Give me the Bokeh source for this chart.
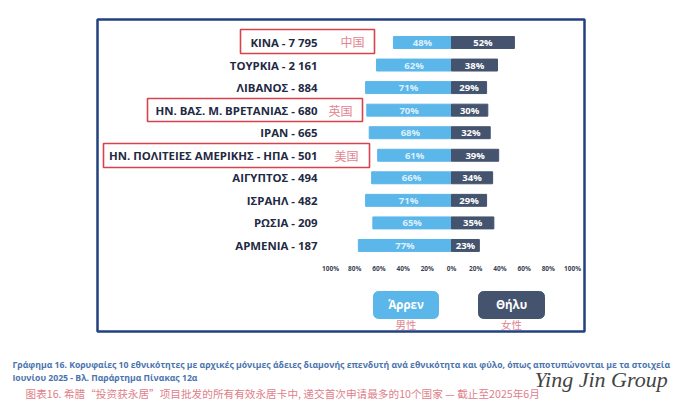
from bokeh.embed import file_html
from bokeh.resources import INLINE
from bokeh.models import (BoxAnnotation, ColumnDataSource, FixedTicker, Label, LinearAxis, Range1d)
from bokeh.plotting import figure

countries = ["ΚΙΝΑ", "ΤΟΥΡΚΙΑ", "ΛΙΒΑΝΟΣ", "ΗΝ. ΒΑΣ. Μ. ΒΡΕΤΑΝΙΑΣ", "ΙΡΑΝ",
             "ΗΝ. ΠΟΛΙΤΕΙΕΣ ΑΜΕΡΙΚΗΣ - ΗΠΑ", "ΑΙΓΥΠΤΟΣ", "ΙΣΡΑΗΛ", "ΡΩΣΙΑ", "ΑΡΜΕΝΙΑ"]
permits = ["7 795", "2 161", "884", "680", "665", "501", "494", "482", "209", "187"]
male = [48, 62, 71, 70, 68, 61, 66, 71, 65, 77]
female = [52, 38, 29, 30, 32, 39, 34, 29, 35, 23]
tick_values = [-100, -80, -60, -40, -20, 0, 20, 40, 60, 80, 100]
legend_names = ["Άρρεν", "Θήλυ"]
legend_cn = ["男性", "女性"]
highlight_cn = ["中国", "英国", "美国"]
caption_el = ["Γράφημα 16. Κορυφαίες 10 εθνικότητες με αρχικές μόνιμες άδειες διαμονής επενδυτή ανά εθνικότητα και φύλο, όπως αποτυπώνονται με τα στοιχεία",
              "Ιουνίου 2025 - Βλ. Παράρτημα Πίνακας 12α"]
caption_cn = "图表16. 希腊“投资获永居”项目批发的所有有效永居卡中, 递交首次申请最多的10个国家  —  截止至2025年6月"
watermark = "Ying Jin Group"

BLUE = "#5BB6EA"
DARK = "#44546E"
NAVY = "#23407F"
RED = "#D8424C"
PINK = "#E2868E"
INK = "#1F2A44"

W, H = 681, 411
ZERO_X, PX_PER_PCT = 451, 1.21
ROW0_Y, ROW_H = 42, 22.55

rows = list(range(len(countries)))
labels = [f"{c} - {n}" for c, n in zip(countries, permits)]
source = ColumnDataSource(dict(
    y=rows,
    male=[-v for v in male],
    female=female,
    male_mid=[-v / 2 for v in male],
    female_mid=[v / 2 for v in female],
    male_txt=[f"{v}%" for v in male],
    female_txt=[f"{v}%" for v in female],
))

p = figure(width=W, height=H, output_backend="svg", toolbar_location=None,
           x_range=Range1d(-ZERO_X / PX_PER_PCT, (W - ZERO_X) / PX_PER_PCT),
           y_range=Range1d((H - ROW0_Y) / ROW_H, -ROW0_Y / ROW_H),
           x_axis_type=None, y_axis_type=None,
           min_border=0)
p.outline_line_color = None
p.grid.visible = False
p.background_fill_color = "white"
p.border_fill_color = "white"

p.hbar(y="y", left="male", right=0, height=0.53, color=BLUE, source=source)
p.hbar(y="y", left=0, right="female", height=0.53, color=DARK, source=source)

for col, txt, tcol in (("male_mid", "male_txt", "#DDF0FB"), ("female_mid", "female_txt", "white")):
    p.text(x=col, y="y", text=txt, source=source, text_color=tcol,
           text_align="center", text_baseline="middle",
           text_font={"value": "Open Sans"}, text_font_style="bold", text_font_size="9.5px")

ax = LinearAxis(fixed_location=(263 - ROW0_Y) / ROW_H, ticker=FixedTicker(ticks=tick_values))
ax.major_label_overrides = {v: f"{abs(v)}%" for v in tick_values}
ax.axis_line_color = None
ax.major_tick_line_color = None
ax.minor_tick_line_color = None
ax.major_tick_out = 0
ax.major_tick_in = 0
ax.major_label_text_font = "Open Sans"
ax.major_label_text_font_style = "bold"
ax.major_label_text_font_size = "6.5px"
ax.major_label_text_color = "#3A4256"
ax.major_label_standoff = 0
p.add_layout(ax, "below")

ay = LinearAxis(fixed_location=(317 - ZERO_X) / PX_PER_PCT, ticker=FixedTicker(ticks=rows))
ay.major_label_overrides = dict(zip(rows, labels))
ay.axis_line_color = None
ay.major_tick_line_color = None
ay.minor_tick_line_color = None
ay.major_tick_out = 0
ay.major_tick_in = 0
ay.major_label_text_font = "Open Sans"
ay.major_label_text_font_style = "bold"
ay.major_label_text_font_size = "11.4px"
ay.major_label_text_color = INK
ay.major_label_standoff = 0
p.add_layout(ay, "left")


def box(l, t, r, b, **kw):
    p.add_layout(BoxAnnotation(left=l, right=r, top=t, bottom=b,
                               left_units="canvas", right_units="canvas",
                               top_units="canvas", bottom_units="canvas",
                               line_alpha=1, **kw))


def label(x, y, text, **kw):
    p.add_layout(Label(x=x, y=y, x_units="canvas", y_units="canvas", text=text,
                       text_baseline="middle", **kw))


box(97, 19, 584, 331, fill_alpha=0, line_color=NAVY, line_width=2.5)
for (l, t, r, b) in [(240, 29, 374, 53), (147, 98, 362, 121), (103, 143, 369, 167)]:
    box(l, t, r, b, fill_alpha=0, line_color=RED, line_width=1.6)
for cn, x, y in zip(highlight_cn, (352, 340, 346), (41, 110, 155)):
    label(x, y, cn, text_align="center", text_color=PINK, text_font="Noto Sans CJK SC",
          text_font_size="12px")

for name, cn, (l, r), col in zip(legend_names, legend_cn, [(373, 438), (478, 544)], (BLUE, DARK)):
    box(l, 291, r, 318, fill_color=col, fill_alpha=1, line_color=col, border_radius=5)
    label((l + r) / 2, 304, name, text_align="center", text_color="white", text_font="Open Sans",
          text_font_style="bold", text_font_size="11.5px")
    label((l + r) / 2, 324, cn, text_align="center", text_color=PINK,
          text_font="Noto Sans CJK SC", text_font_size="10.5px")

for line, y in zip(caption_el, (364, 377.5)):
    label(12, y, line, text_align="left", text_color="#4A74AE", text_font="Open Sans",
          text_font_style="bold", text_font_size="8.68px")
label(25, 392.5, caption_cn, text_align="left", text_color="#E0808A",
      text_font="Noto Sans CJK SC", text_font_size="10.65px")
label(534, 379, watermark, text_align="left", text_color="#444444", text_font="Liberation Serif",
      text_font_style="italic", text_font_size="22px")

open("out.html", "w").write(file_html(p, INLINE))
